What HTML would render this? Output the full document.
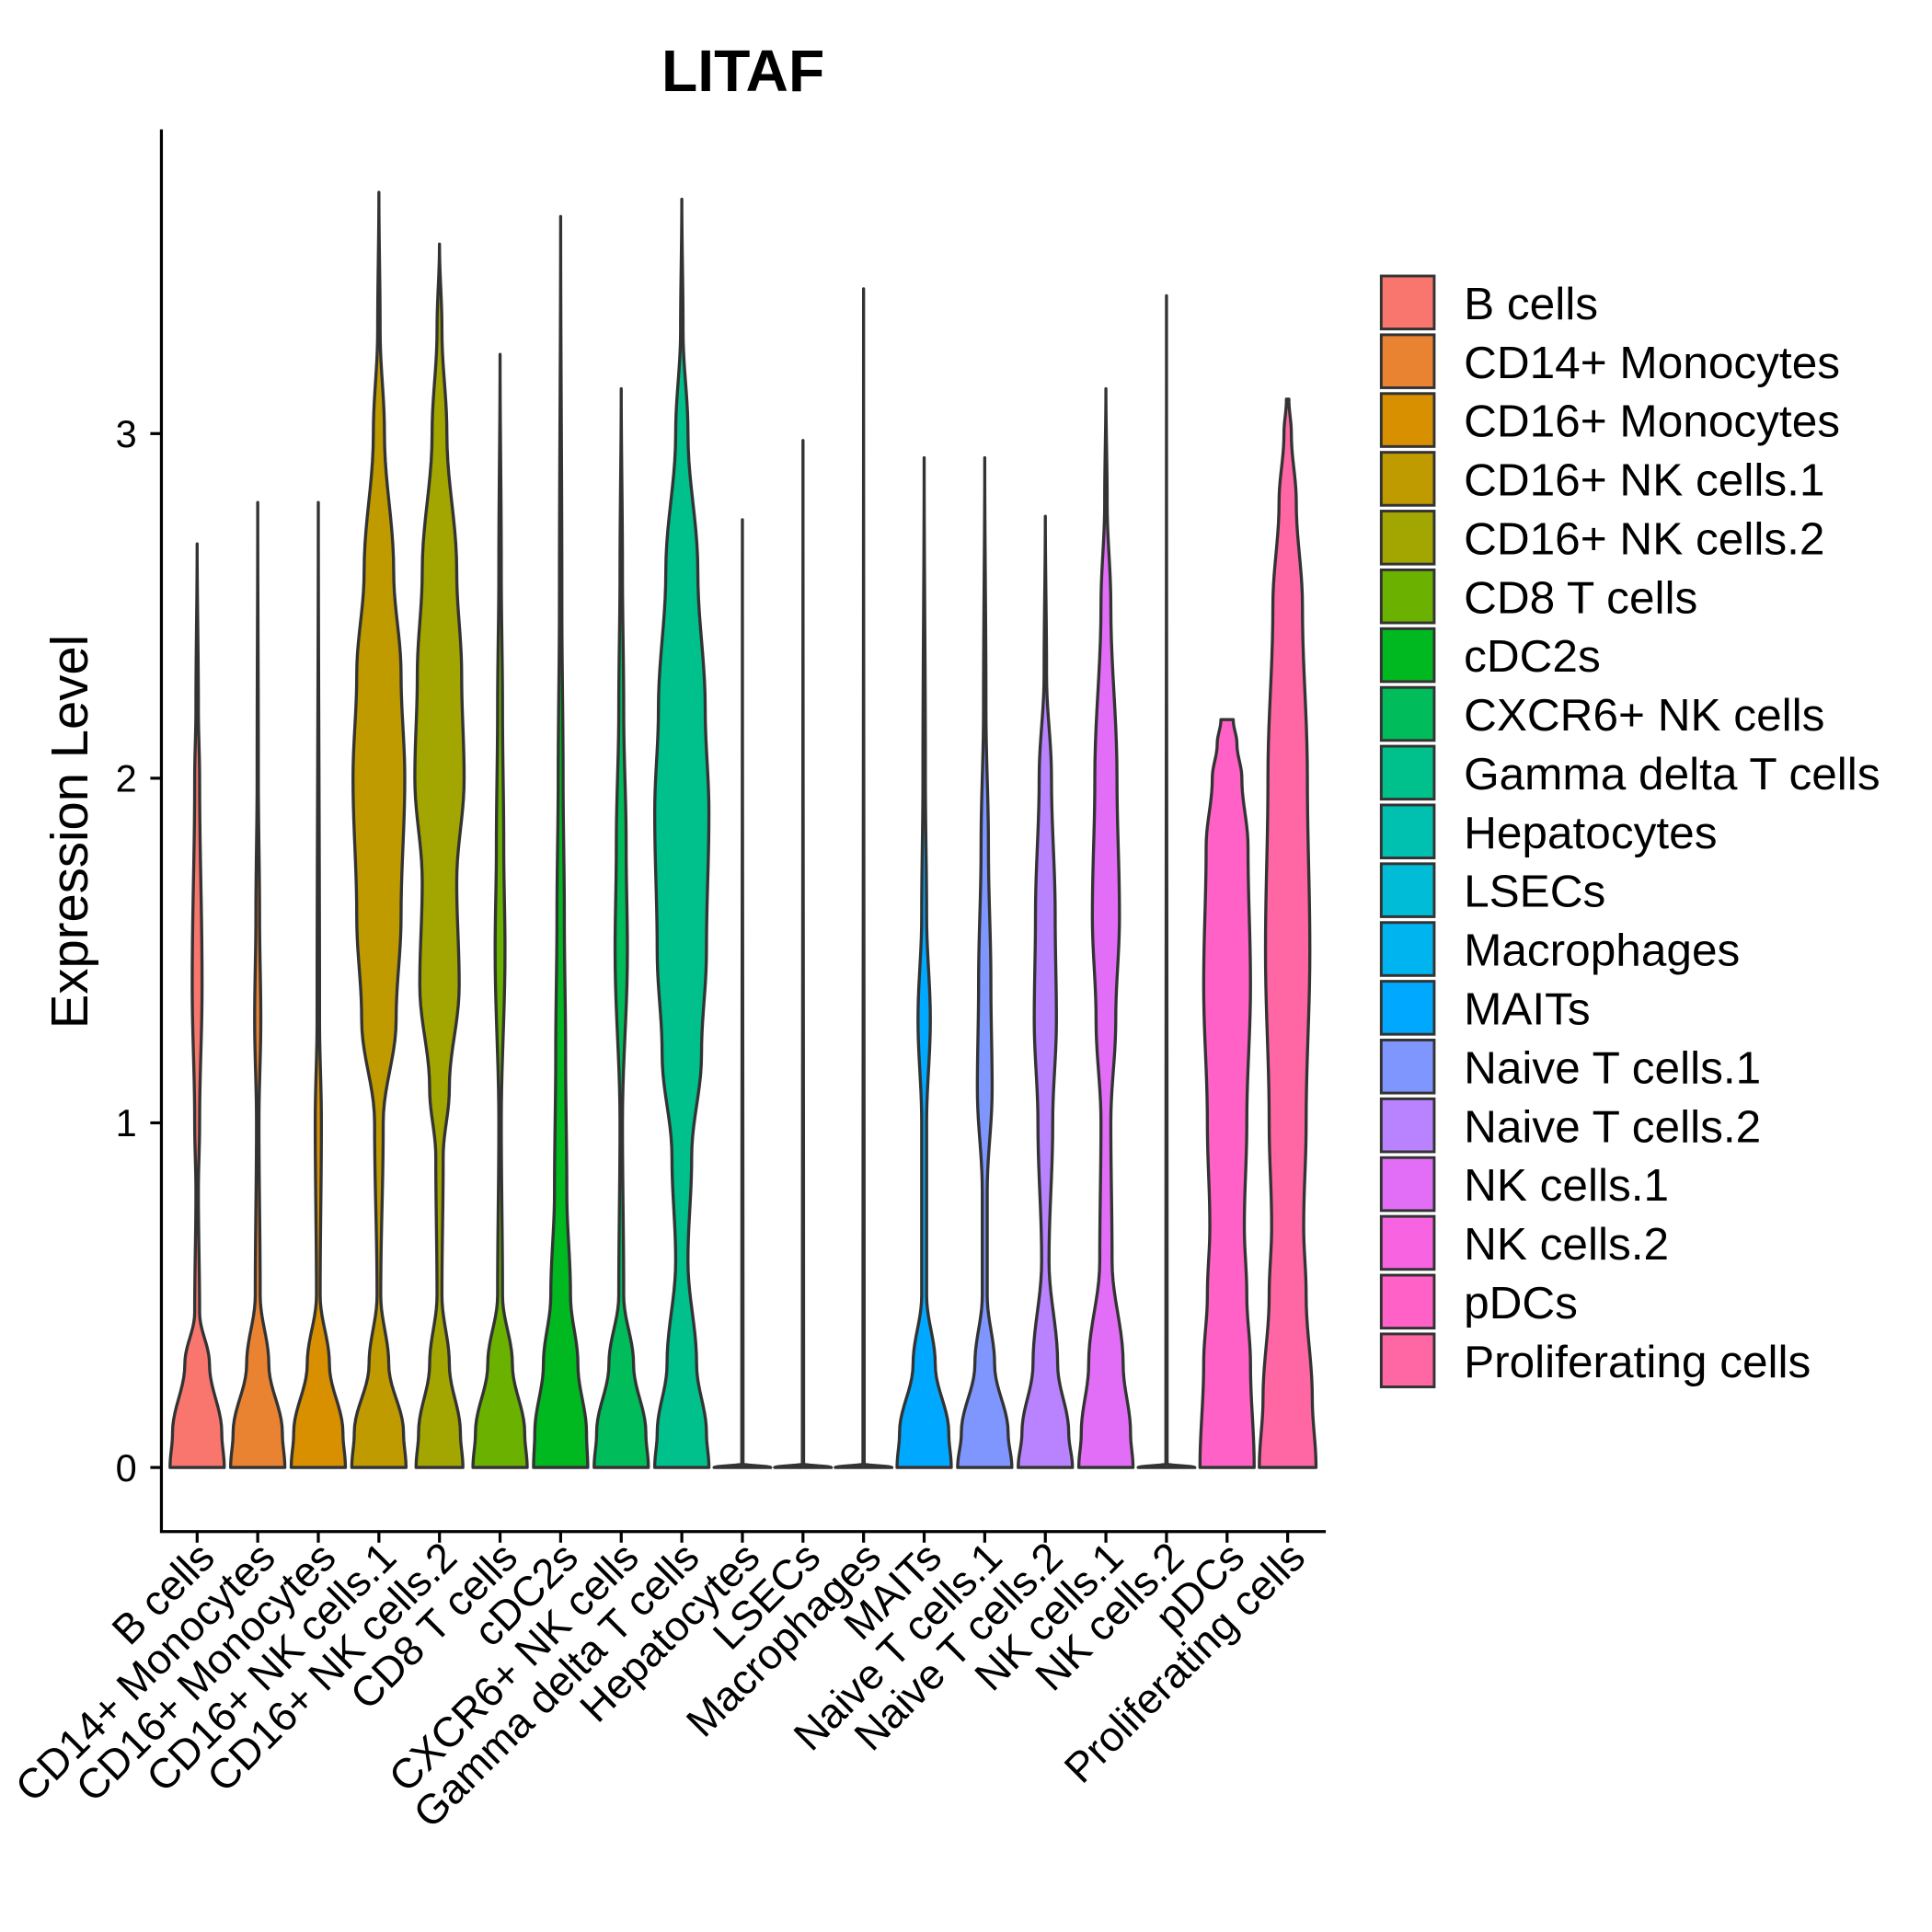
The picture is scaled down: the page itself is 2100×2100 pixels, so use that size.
<!DOCTYPE html>
<html><head><meta charset="utf-8"><style>
html,body{margin:0;padding:0;background:#fff;}
svg{display:block;font-family:"Liberation Sans",Arial,sans-serif;}
</style></head><body>
<svg id="chart" width="2100" height="2100" viewBox="0 0 1568 1568" xmlns="http://www.w3.org/2000/svg">
<rect width="1568" height="1568" fill="#fff"/>
<text x="603" y="74" font-size="48" font-weight="bold" text-anchor="middle">LITAF</text>
<text x="0" y="0" font-size="42" text-anchor="middle" transform="translate(71,675) rotate(-90)">Expression Level</text>
<g id="plot"></g>
<g id="legend"></g>
</svg>
<script>
const categories=["B cells","CD14+ Monocytes","CD16+ Monocytes","CD16+ NK cells.1","CD16+ NK cells.2","CD8 T cells","cDC2s","CXCR6+ NK cells","Gamma delta T cells","Hepatocytes","LSECs","Macrophages","MAITs","Naive T cells.1","Naive T cells.2","NK cells.1","NK cells.2","pDCs","Proliferating cells"];
const colors=["#F8766D","#EA8331","#D89000","#BF9B00","#A3A500","#6BB100","#00B81F","#00BC5A","#00C08B","#00C0B0","#00BCD6","#00B4EF","#00A9FF","#7F96FF","#B983FF","#E26EF7","#F763E0","#FF61C7","#FF67A4"];
const maxValues=[2.68,2.8,2.8,3.7,3.55,3.23,3.63,3.13,3.68,2.75,2.98,3.42,2.93,2.93,2.76,3.13,3.4,2.17,3.1];
const densityLevels=[
[0,0.1,0.3,0.45,0.8,1.0,1.4,2.0,2.2,2.68],
[0,0.1,0.3,0.5,1.0,1.3,1.6,2.0,2.8],
[0,0.1,0.3,0.5,1.0,1.3,2.8],
[0,0.1,0.3,0.5,1.0,1.3,1.6,2.0,2.3,2.6,3.0,3.3,3.7],
[0,0.1,0.3,0.5,0.9,1.1,1.4,1.7,2.0,2.3,2.6,3.0,3.3,3.55],
[0,0.1,0.3,0.5,1.0,1.5,1.8,2.2,2.6,3.23],
[0,0.1,0.3,0.5,0.8,1.2,1.6,2.0,2.5,3.63],
[0,0.1,0.3,0.5,1.0,1.5,1.8,2.2,2.6,3.13],
[0,0.1,0.3,0.6,0.9,1.2,1.5,1.9,2.2,2.6,3.0,3.3,3.68],
[0,0.01,2.75],
[0,0.01,2.98],
[0,0.01,3.42],
[0,0.1,0.3,0.5,1.0,1.3,1.6,2.0,2.93],
[0,0.1,0.3,0.5,0.8,1.1,1.4,1.8,2.2,2.93],
[0,0.1,0.3,0.6,1.0,1.3,1.6,2.0,2.3,2.76],
[0,0.1,0.3,0.6,1.0,1.3,1.6,2.0,2.5,2.8,3.13],
[0,0.01,3.4],
[0,0.3,0.5,0.7,1.0,1.4,1.8,2.0,2.1,2.17],
[0,0.2,0.5,0.7,1.0,1.5,2.0,2.5,2.8,3.0,3.1]];
const densityWidths=[
[22,20,10,2,1,2,4,2,1,0],
[22,20,9,2,1,2.5,1.5,0.5,0],
[22,20,9,1.5,2.5,1,0],
[22,20,8,1.5,3.5,14,18,21,18,12,4.5,1,0],
[19,17,8,2,3,8,16,14,20,18,14,6,2,0],
[22,20,10,2,1,4,3,2,1,0],
[22,21,14,8,5,4,3,2,1,0],
[22,20,10,2,1,5,4,2,1,0],
[22,20,12,5,8,16,20,22,19,13,5,1,0],
[23,0.5,0],
[23,0.5,0],
[23,0.5,0],
[22,20,9,2,2,5,2,1,0],
[22,19,8,2,2,6,5,3,1,0],
[22,19,10,3,6,9,8,5,1,0],
[22,20,14,5,4,8,11,9,4,1,0],
[23,0.5,0],
[22,19,16,14,16,19,17,12,8,5],
[23,20,15,13,15,18,16,12,7,3,1]];
const yTicks=[0,1,2,3];
const NS="http://www.w3.org/2000/svg";
const X0=160,XSTEP=49.17,Y0=1191,YUNIT=279.7;
const xScale=i=>X0+i*XSTEP;
const yScale=v=>Y0-v*YUNIT;
const plot=document.getElementById('plot');
function mk(tag,attrs,parent){const e=document.createElementNS(NS,tag);for(const k in attrs)e.setAttribute(k,attrs[k]);parent.appendChild(e);return e;}
categories.forEach((c,i)=>{
  const lv=densityLevels[i],wd=densityWidths[i];
  const cx=xScale(i);
  const pts=[];
  for(let k=0;k<lv.length-1;k++){
    const n=10;
    for(let s=0;s<n;s++){
      const t=s/n,ct=(1-Math.cos(Math.PI*t))/2;
      pts.push([lv[k]+(lv[k+1]-lv[k])*t, wd[k]+(wd[k+1]-wd[k])*ct]);
    }
  }
  pts.push([lv[lv.length-1],wd[wd.length-1]]);
  let d="M"+(cx+pts[0][1])+","+yScale(pts[0][0]);
  pts.forEach(p=>{d+=" L"+(cx+p[1]).toFixed(2)+","+yScale(p[0]).toFixed(2);});
  for(let k=pts.length-1;k>=0;k--){d+=" L"+(cx-pts[k][1]).toFixed(2)+","+yScale(pts[k][0]).toFixed(2);}
  d+=" Z";
  const p=mk('path',{d:d,fill:colors[i],stroke:'#333','stroke-width':2.5,'stroke-linejoin':'round'},plot);
  
  
});
const ax=mk('line',{x1:131,y1:105,x2:131,y2:1244,stroke:'#000','stroke-width':2.4},plot);


const bx=mk('line',{x1:130,y1:1243,x2:1076,y2:1243,stroke:'#000','stroke-width':2.4},plot);


yTicks.forEach(v=>{
  const l=mk('line',{x1:122,y1:yScale(v),x2:131,y2:yScale(v),stroke:'#000','stroke-width':2.4},plot);
  
  
  const t=mk('text',{x:111,y:yScale(v)+11,'font-size':31,'text-anchor':'end'},plot);
  t.textContent=v;
  
  
});
categories.forEach((c,i)=>{
  const x=xScale(i);
  const l=mk('line',{x1:x,y1:1243,x2:x,y2:1252,stroke:'#000','stroke-width':2.4},plot);
  
  
  const t=mk('text',{x:0,y:0,'font-size':34,'text-anchor':'end',transform:`translate(${x+16},${1266}) rotate(-45)`},plot);
  t.textContent=c;
  
  
});
const lg=document.getElementById('legend');


categories.forEach((c,i)=>{
  const y=224+i*47.7;
  const r=mk('rect',{x:1121,y:y,width:43,height:43,fill:colors[i],stroke:'#333','stroke-width':2.2},lg);
  
  
  const t=mk('text',{x:1188,y:y+35,'font-size':37},lg);
  t.textContent=c;
  
  
});
</script>
</body></html>
